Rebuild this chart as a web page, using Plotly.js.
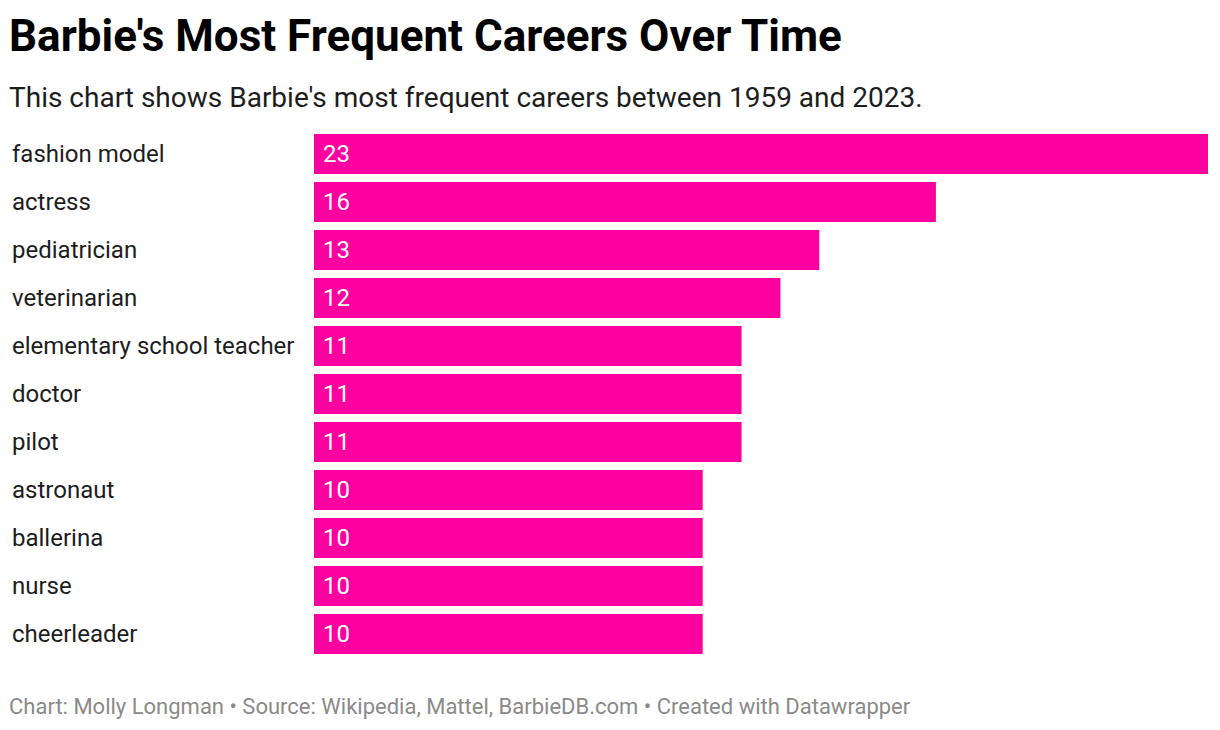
<!DOCTYPE html>
<html>
<head>
<meta charset="utf-8">
<script src="https://cdn.plot.ly/plotly-3.0.1.min.js"></script>
<style>
html,body{margin:0;padding:0;background:#fff;}
#chart{width:1220px;height:730px;}
</style>
</head>
<body>
<div id="chart"></div>
<script>
const careers = ["fashion model","actress","pediatrician","veterinarian","elementary school teacher","doctor","pilot","astronaut","ballerina","nurse","cheerleader"];
const counts = [23,16,13,12,11,11,11,10,10,10,10];
const titleText = "Barbie's Most Frequent Careers Over Time";
const subtitleText = "This chart shows Barbie's most frequent careers between 1959 and 2023.";
const footerText = "Chart: Molly Longman • Source: Wikipedia, Mattel, BarbieDB.com • Created with Datawrapper";

const W = 1220, H = 730;
const mL = 314, mR = 12, mT = 130, mB = 72;
const plotW = W - mL - mR, plotH = H - mT - mB;
const px2x = p => (p - mL) / plotW;
const py2y = p => (H - mB - p) / plotH;
const FONT = "Roboto, 'Open Sans', sans-serif";
const PINK = "#ff00a0";

const trace = {
  type: "bar",
  orientation: "h",
  x: counts,
  y: careers,
  marker: {color: PINK, line: {width: 0}},
  hoverinfo: "skip"
};

const annotations = [];
careers.forEach((c, i) => {
  annotations.push({
    xref: "paper", yref: "y", x: px2x(10), y: c,
    xanchor: "left", yanchor: "middle", text: c, showarrow: false,
    font: {family: FONT, size: 24, color: "#1d1d1d"}
  });
  annotations.push({
    xref: "x", yref: "y", x: 0, y: c, xshift: 7,
    xanchor: "left", yanchor: "middle", text: String(counts[i]), showarrow: false,
    font: {family: FONT, size: 24, color: "#ffffff"}
  });
});
annotations.push({
  xref: "paper", yref: "paper", x: px2x(7), y: py2y(36),
  xanchor: "left", yanchor: "middle", text: "<b>" + titleText + "</b>", showarrow: false,
  font: {family: FONT, size: 44, color: "#000000"}
});
annotations.push({
  xref: "paper", yref: "paper", x: px2x(7), y: py2y(97),
  xanchor: "left", yanchor: "middle", text: subtitleText, showarrow: false,
  font: {family: FONT, size: 28, color: "#1d1d1d"}
});
annotations.push({
  xref: "paper", yref: "paper", x: px2x(7), y: py2y(706),
  xanchor: "left", yanchor: "middle", text: footerText, showarrow: false,
  font: {family: FONT, size: 22, color: "#8a8a8a"}
});

const layout = {
  width: W, height: H,
  margin: {l: mL, r: mR, t: mT, b: mB, pad: 0},
  paper_bgcolor: "#ffffff", plot_bgcolor: "#ffffff",
  bargap: 8/48,
  showlegend: false,
  xaxis: {range: [0, 23], visible: false, fixedrange: true},
  yaxis: {autorange: "reversed", showticklabels: false, showgrid: false, zeroline: false, showline: false, ticks: "", fixedrange: true},
  annotations: annotations
};

Plotly.newPlot("chart", [trace], layout, {displayModeBar: false, staticPlot: true});
</script>
</body>
</html>
